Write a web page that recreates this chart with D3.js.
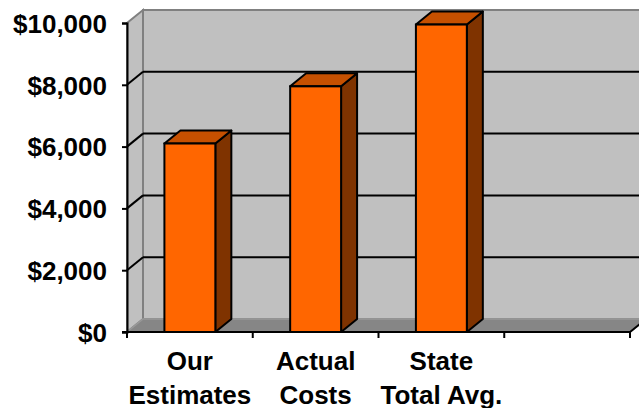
<!DOCTYPE html>
<html>
<head>
<meta charset="utf-8">
<script src="https://cdn.jsdelivr.net/npm/d3@7"></script>
<style>
  html, body { margin: 0; padding: 0; background: #fff; }
  svg { display: block; }
  text { font-family: "Liberation Sans", Arial, sans-serif; font-weight: bold; fill: #000; }
</style>
</head>
<body>
<div id="chart"></div>
<script>
// data
const categories = ["Our Estimates", "Actual Costs", "State Total Avg."];
const costs = [6100, 7950, 9950];
const yTicks = [0, 2000, 4000, 6000, 8000, 10000];

const width = 639, height = 408;
const depthX = 16, depthY = -13;   // 3d offset of the back wall

const svg = d3.select("#chart").append("svg")
    .attr("width", width)
    .attr("height", height);

// scales (4 slots, the last one is empty)
const x = d3.scaleBand()
    .domain(categories.concat([""]))
    .range([127, 630]);
const y = d3.scaleLinear()
    .domain([0, 10000])
    .range([332, 23]);

const x0 = x.range()[0], x1 = x.range()[1];
const yBottom = y(0), yTop = y(10000);

// walls
const wallColor = "#c0c0c0", edgeColor = "#808080";

// back wall
svg.append("rect")
    .attr("x", x0 + depthX)
    .attr("y", yTop + depthY)
    .attr("width", x1 - x0)
    .attr("height", yBottom - yTop)
    .style("fill", wallColor)
    .style("stroke", edgeColor)
    .style("stroke-width", 2);

// left wall
svg.append("polygon")
    .attr("points", [
        [x0, yBottom], [x0 + depthX, yBottom + depthY],
        [x0 + depthX, yTop + depthY], [x0, yTop]
    ].join(" "))
    .style("fill", wallColor)
    .style("stroke", edgeColor)
    .style("stroke-width", 2);

// floor
svg.append("polygon")
    .attr("points", [
        [x0, yBottom], [x1, yBottom],
        [x1 + depthX, yBottom + depthY], [x0 + depthX, yBottom + depthY]
    ].join(" "))
    .style("fill", "#868686")
    .style("stroke", "#999")
    .style("stroke-width", 1.5);

// gridlines (left wall diagonal + back wall)
const inner = yTicks.filter(v => v > 0 && v < 10000);
const grid = svg.append("g").attr("class", "grid");
grid.selectAll(".diag")
    .data(inner)
    .enter()
    .append("line")
    .attr("x1", x0)
    .attr("y1", d => y(d))
    .attr("x2", x0 + depthX)
    .attr("y2", d => y(d) + depthY)
    .style("stroke", "#000")
    .style("stroke-width", 2);
grid.selectAll(".back")
    .data(inner)
    .enter()
    .append("line")
    .attr("x1", x0 + depthX)
    .attr("y1", d => y(d) + depthY)
    .attr("x2", x1 + depthX)
    .attr("y2", d => y(d) + depthY)
    .style("stroke", "#000")
    .style("stroke-width", 2);

// bars
const barW = x.bandwidth() * 0.405;
const bars = svg.selectAll(".bar")
    .data(costs)
    .enter()
    .append("g")
    .attr("class", "bar");

const left = (d, i) => x(categories[i]) + (x.bandwidth() - barW) / 2;

bars.append("polygon")
    .attr("points", (d, i) => {
        const a = left(d, i), b = a + barW, t = y(d);
        return [[b, t], [b + depthX, t + depthY], [b + depthX, yBottom + depthY], [b, yBottom]].join(" ");
    })
    .style("fill", "#7f3300")
    .style("stroke", "#000")
    .style("stroke-width", 2)
    .style("stroke-linejoin", "round");

bars.append("polygon")
    .attr("points", (d, i) => {
        const a = left(d, i), b = a + barW, t = y(d);
        return [[a, t], [a + depthX, t + depthY], [b + depthX, t + depthY], [b, t]].join(" ");
    })
    .style("fill", "#c65000")
    .style("stroke", "#000")
    .style("stroke-width", 2)
    .style("stroke-linejoin", "round");

bars.append("rect")
    .attr("x", left)
    .attr("y", d => y(d))
    .attr("width", barW)
    .attr("height", d => yBottom - y(d))
    .style("fill", "#ff6600")
    .style("stroke", "#000")
    .style("stroke-width", 2);

// y axis
const yAxis = d3.axisLeft(y)
    .tickValues(yTicks)
    .tickFormat(d3.format("$,"))
    .tickSize(5)
    .tickPadding(15);

const gy = svg.append("g")
    .attr("transform", `translate(${x0},0)`)
    .call(yAxis);
gy.select(".domain").style("stroke", "#000").style("stroke-width", 2);
gy.selectAll(".tick line").style("stroke", "#000").style("stroke-width", 2);
gy.selectAll(".tick text")
    .style("font-size", "26px")
    .style("font-family", "'Liberation Sans', Arial, sans-serif")
    .style("font-weight", "bold")
    .attr("dy", "0.36em");

// x axis: line, ticks at band edges, two-line labels
const gx = svg.append("g").attr("class", "x-axis");
gx.append("line")
    .attr("x1", x0 - 5)
    .attr("x2", x1)
    .attr("y1", yBottom)
    .attr("y2", yBottom)
    .style("stroke", "#000")
    .style("stroke-width", 2);

const edges = x.domain().map(d => x(d)).concat([x1]);
gx.selectAll(".xtick")
    .data(edges)
    .enter()
    .append("line")
    .attr("x1", d => d)
    .attr("x2", d => d)
    .attr("y1", yBottom)
    .attr("y2", yBottom + 6)
    .style("stroke", "#000")
    .style("stroke-width", 2);

// floor right edge going back
gx.append("line")
    .attr("x1", x1)
    .attr("y1", yBottom)
    .attr("x2", x1 + depthX)
    .attr("y2", yBottom + depthY)
    .style("stroke", "#000")
    .style("stroke-width", 2);

const labels = gx.selectAll(".xlabel")
    .data(categories)
    .enter()
    .append("text")
    .attr("class", "xlabel")
    .attr("text-anchor", "middle")
    .style("font-size", "26px");

labels.each(function(d) {
    const k = d.indexOf(" ");
    const lines = [d.slice(0, k), d.slice(k + 1)];
    const cx = x(d) + x.bandwidth() / 2;
    d3.select(this).selectAll("tspan")
        .data(lines)
        .enter()
        .append("tspan")
        .attr("x", cx)
        .attr("y", (l, j) => 370 + j * 33.5)
        .text(l => l);
});
</script>
</body>
</html>
